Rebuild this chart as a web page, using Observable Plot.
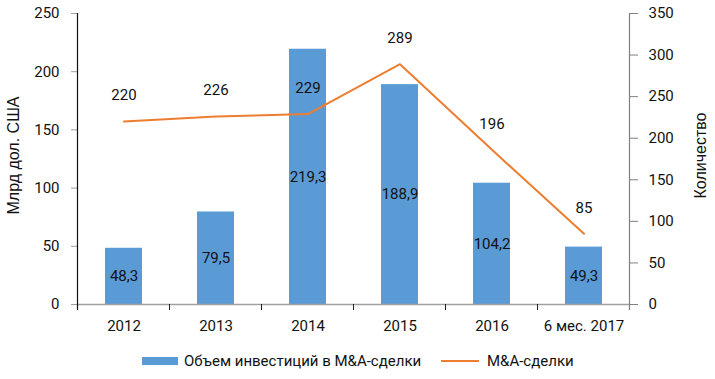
<!DOCTYPE html>
<html><head><meta charset="utf-8">
<script src="https://cdn.jsdelivr.net/npm/d3@7"></script>
<script src="https://cdn.jsdelivr.net/npm/@observablehq/plot@0.6"></script>
<style>
body{margin:0;background:#fff;}
#wrap{position:relative;width:715px;height:379px;overflow:hidden;font-family:Roboto,sans-serif;}
.lg{position:absolute;top:352px;height:18px;display:flex;align-items:center;font-family:Roboto,sans-serif;font-size:15px;color:#111;white-space:nowrap;}
.sw{display:inline-block;margin-right:6px;}
</style></head>
<body><div id="wrap"></div>
<script>
const categories = ["2012","2013","2014","2015","2016","6 мес. 2017"];
const investment = [48.3, 79.5, 219.3, 188.9, 104.2, 49.3];
// line as plotted in the picture
const deals = [220, 226, 229, 289, 186, 85];
// numbers printed as labels
const dealLabels = ["220", "226", "229", "289", "196", "85"];
const leftTicks = [0, 50, 100, 150, 200, 250];
const rightTicks = [0, 50, 100, 150, 200, 250, 300, 350];
const leftMax = 250, rightMax = 350;
const leftTitle = "Млрд дол. США";
const rightTitle = "Количество";
const legendBar = "Объем инвестиций в M&A-сделки";
const legendLine = "M&A-сделки";

const barColor = "#5B9BD5", lineColor = "#ED7D31";
const k = leftMax / rightMax;
const fmt = v => String(v).replace(".", ",");
const rows = categories.map((c, i) => ({c, inv: investment[i], label: dealLabels[i], ds: deals[i] * k}));

const plot = Plot.plot({
  width: 715, height: 345,
  marginLeft: 77, marginRight: 86, marginTop: 13, marginBottom: 41,
  style: {fontFamily: "Roboto, sans-serif", fontSize: "15px", color: "#111", background: "#fff", overflow: "visible"},
  x: {type: "band", domain: categories, paddingInner: 0.6, paddingOuter: 0.3},
  y: {domain: [0, leftMax]},
  marks: [
    Plot.barY(rows, {x: "c", y: "inv", fill: barColor}),
    Plot.ruleY([0], {stroke: "#a0a0a0", strokeWidth: 1.5}),
    Plot.lineY(rows, {x: "c", y: "ds", stroke: lineColor, strokeWidth: 2}),
    Plot.text(rows, {x: "c", y: d => d.inv / 2, text: d => fmt(d.inv), fontSize: 15, fill: "#111"}),
    Plot.text(rows, {x: "c", y: "ds", dy: -26, text: "label", fontSize: 15, fill: "#111"}),
    Plot.axisX({tickSize: 0, tickPadding: 16, label: null, fontSize: 15}),
    Plot.axisY(leftTicks, {anchor: "left", tickSize: 6, tickPadding: 12, label: null, stroke: "#a0a0a0", fontSize: 15}),
    Plot.axisY(rightTicks.map(v => v * k), {anchor: "right", tickSize: 8, tickPadding: 11, label: null, stroke: "#808080",
      tickFormat: v => String(Math.round(v / k)), fontSize: 15})
  ]
});

const wrap = document.getElementById("wrap");
wrap.appendChild(plot);
const svg = d3.select(plot);
const xs = plot.scale("x"), ys = plot.scale("y");
const yTop = ys.apply(leftMax), yBase = ys.apply(0);
const gap = xs.step - xs.bandwidth;
const bounds = categories.map(c => xs.apply(c) - gap / 2);
bounds.push(xs.apply(categories[categories.length - 1]) + xs.bandwidth + gap / 2);
const g = svg.append("g");
bounds.forEach(b => g.append("line").attr("x1", b).attr("x2", b).attr("y1", yBase).attr("y2", yBase + 6).attr("stroke", "#222").attr("stroke-width", 1));
const xL = bounds[0], xR = bounds[bounds.length - 1];
g.append("line").attr("x1", xL).attr("x2", xL).attr("y1", yTop).attr("y2", yBase + 6).attr("stroke", "#111").attr("stroke-width", 1.2);
g.append("line").attr("x1", xR).attr("x2", xR).attr("y1", yTop).attr("y2", yBase + 6).attr("stroke", "#808080").attr("stroke-width", 1.2);
const midY = (yTop + yBase) / 2 - 3;
svg.append("text").attr("transform", `translate(13,${midY}) rotate(-90)`).attr("text-anchor", "middle").attr("dominant-baseline", "central")
  .attr("font-family", "'Liberation Sans', Arial, sans-serif").attr("font-size", 16).attr("fill", "#111").text(leftTitle);
svg.append("text").attr("transform", `translate(700,${midY}) rotate(-90)`).attr("text-anchor", "middle").attr("dominant-baseline", "central")
  .attr("font-family", "'Liberation Sans', Arial, sans-serif").attr("font-size", 16).attr("fill", "#111").text(rightTitle);

const l1 = document.createElement("div");
l1.className = "lg"; l1.style.left = "142px";
l1.innerHTML = `<span class="sw" style="width:36px;height:8px;background:${barColor}"></span>`;
l1.appendChild(document.createTextNode(legendBar));
wrap.appendChild(l1);
const l2 = document.createElement("div");
l2.className = "lg"; l2.style.left = "441px";
l2.innerHTML = `<span class="sw" style="width:38px;height:2px;background:${lineColor};margin-right:8px"></span>`;
l2.appendChild(document.createTextNode(legendLine));
wrap.appendChild(l2);
</script>
</body></html>
